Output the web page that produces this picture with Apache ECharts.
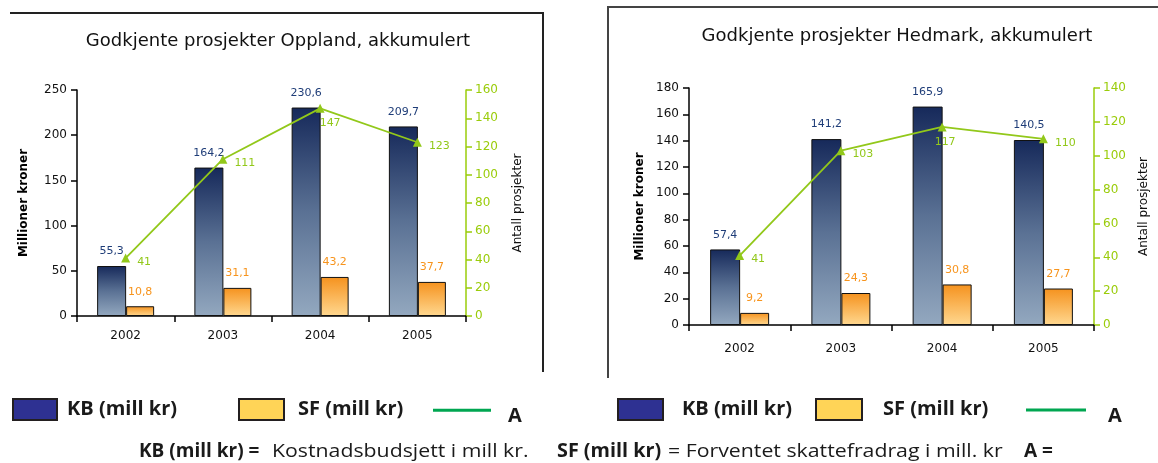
<!DOCTYPE html>
<html>
<head>
<meta charset="utf-8">
<script src="https://cdn.jsdelivr.net/npm/echarts@6/dist/echarts.min.js"></script>
<style>
html,body{margin:0;padding:0;background:#fff;}
#c{width:1158px;height:463px;}
</style>
</head>
<body>
<div id="c"></div>
<script>
const categories = ['2002', '2003', '2004', '2005'];
const opplandKB = [55.3, 164.2, 230.6, 209.7];
const opplandSF = [10.8, 31.1, 43.2, 37.7];
const opplandA = [41, 111, 147, 123];
const hedmarkKB = [57.4, 141.2, 165.9, 140.5];
const hedmarkSF = [9.2, 24.3, 30.8, 27.7];
const hedmarkA = [41, 103, 117, 110];
const titles = ['Godkjente prosjekter Oppland, akkumulert', 'Godkjente prosjekter Hedmark, akkumulert'];
const leftAxisName = 'Millioner kroner';
const rightAxisName = 'Antall prosjekter';
const nameKB = 'KB (mill kr)';
const nameSF = 'SF (mill kr)';
const nameA = 'A';
const footnote = ['KB (mill kr) =', 'Kostnadsbudsjett i mill kr.', 'SF (mill kr)', '= Forventet skattefradrag i mill. kr', 'A ='];

const FONT = 'DejaVu Sans';
const GREEN = '#92c81a';
const AXGREEN = '#9acc0a';
const comma = v => v.toFixed(1).replace('.', ',');

const kbColor = new echarts.graphic.LinearGradient(0, 0, 0, 1, [
  {offset: 0, color: '#16295a'}, {offset: 0.5, color: '#5a7194'}, {offset: 1, color: '#93a8bf'}]);
const sfColor = new echarts.graphic.LinearGradient(0, 0, 0, 1, [
  {offset: 0, color: '#f5921e'}, {offset: 1, color: '#ffd890'}]);

function xAx(gi, margin) {
  return {
    type: 'category', gridIndex: gi, data: categories,
    axisLine: {lineStyle: {color: '#000', width: 1.5}},
    axisTick: {show: true, length: 6, lineStyle: {color: '#000', width: 1.5}},
    axisLabel: {color: '#111', fontFamily: FONT, fontSize: 12, margin: margin},
    splitLine: {show: false}
  };
}
function yLeft(gi, max, interval, gap) {
  return {
    type: 'value', gridIndex: gi, min: 0, max: max, interval: interval,
    name: leftAxisName, nameLocation: 'middle', nameRotate: 90, nameGap: gap,
    nameTextStyle: {color: '#000', fontFamily: FONT, fontSize: 12, fontWeight: 'bold'},
    axisLine: {show: true, lineStyle: {color: '#000', width: 1.5}},
    axisTick: {show: true, length: 6, lineStyle: {color: '#000', width: 1.5}},
    axisLabel: {color: '#111', fontFamily: FONT, fontSize: 12, margin: 10},
    splitLine: {show: false}
  };
}
function yRight(gi, max, gap) {
  return {
    type: 'value', gridIndex: gi, position: 'right', min: 0, max: max, interval: 20,
    name: rightAxisName, nameLocation: 'middle', nameRotate: 90, nameGap: gap,
    nameTextStyle: {color: '#111', fontFamily: FONT, fontSize: 12},
    axisLine: {show: true, lineStyle: {color: AXGREEN, width: 1.5}},
    axisTick: {show: true, length: 6, lineStyle: {color: AXGREEN, width: 1.5}},
    axisLabel: {color: AXGREEN, fontFamily: FONT, fontSize: 12, margin: 9},
    splitLine: {show: false}
  };
}
function barSeries(name, data, gi, color, labelColor, bw) {
  return {
    name: name, type: 'bar', xAxisIndex: gi, yAxisIndex: gi * 2, data: data,
    barWidth: bw, barGap: '0%',
    itemStyle: {color: color, borderColor: '#111', borderWidth: 1},
    label: {show: true, position: 'top', distance: 9, color: labelColor, fontFamily: FONT, fontSize: 11,
      formatter: p => comma(p.value)}
  };
}
function lineSeries(data, gi, peakOffset) {
  const peak = Math.max.apply(null, data);
  return {
    name: nameA, type: 'line', xAxisIndex: gi, yAxisIndex: gi * 2 + 1, z: 5,
    data: data.map(v => v === peak ? {value: v, label: {position: 'bottom', distance: 5, offset: peakOffset}} : v),
    symbol: 'triangle', symbolSize: 9,
    itemStyle: {color: GREEN}, lineStyle: {color: GREEN, width: 1.8},
    label: {show: true, position: 'right', distance: 7, offset: [0, 4], color: GREEN, fontFamily: FONT, fontSize: 11}
  };
}
const legText = {color: '#1a1a1a', fontFamily: 'Open Sans', fontWeight: 'bold', fontSize: 20};
function legendItem(name, left, w, h, style, top, pad, icon) {
  return {
    left: left, top: top, itemWidth: w, itemHeight: h, selectedMode: false, padding: 0,
    data: [{name: name, icon: icon || 'rect', itemStyle: style}],
    textStyle: Object.assign({padding: pad}, legText)
  };
}
const kbLeg = {color: '#2e3192', borderColor: '#231f20', borderWidth: 2};
const sfLeg = {color: '#ffd457', borderColor: '#231f20', borderWidth: 2};
const aLeg = {color: '#00a651', borderWidth: 0};
// line drawn at the top of a taller icon box, so the label sits lower than the line
const aIcon = 'path://M0,0H60V3H0ZM0,14.999H60V15H0Z';

function foot(text, x, bold, sx) {
  return {type: 'text', left: x, top: 442, scaleX: sx, style: {
    text: text, fill: '#1a1a1a', font: (bold ? 'bold ' : '') + '19px "Open Sans"'}};
}

const chart = echarts.init(document.getElementById('c'));
chart.setOption({
  animation: false,
  backgroundColor: '#fff',
  title: [
    {text: titles[0], left: 273, top: 27, textAlign: 'center',
      textStyle: {fontFamily: FONT, fontSize: 18, fontWeight: 'normal', color: '#111'}},
    {text: titles[1], left: 892, top: 22, textAlign: 'center',
      textStyle: {fontFamily: FONT, fontSize: 18, fontWeight: 'normal', color: '#111'}}
  ],
  grid: [
    {left: 77, top: 90, width: 389, height: 226},
    {left: 689, top: 88, width: 405, height: 237}
  ],
  xAxis: [xAx(0, 14), xAx(1, 18)],
  yAxis: [yLeft(0, 250, 50, 47), yRight(0, 160, 46), yLeft(1, 180, 20, 43), yRight(1, 140, 44)],
  legend: [
    legendItem(nameKB, 12, 44, 21, kbLeg, 398, [0, 0, 0, 5]),
    legendItem(nameSF, 238, 45, 21, sfLeg, 398, [0, 0, 0, 9]),
    legendItem(nameA, 433, 58, 15, aLeg, 406, [0, 0, 0, 12], aIcon),
    legendItem(nameKB, 617, 45, 21, kbLeg, 398, [0, 0, 0, 14]),
    legendItem(nameSF, 815, 46, 21, sfLeg, 398, [0, 0, 0, 16]),
    legendItem(nameA, 1026, 60, 15, aLeg, 406, [0, 0, 0, 17], aIcon)
  ],
  series: [
    barSeries(nameKB, opplandKB, 0, kbColor, '#1f3d78', 29),
    barSeries(nameSF, opplandSF, 0, sfColor, '#f7941d', 28),
    lineSeries(opplandA, 0, [10, 0]),
    barSeries(nameKB, hedmarkKB, 1, kbColor, '#1f3d78', 30),
    barSeries(nameSF, hedmarkSF, 1, sfColor, '#f7941d', 29),
    lineSeries(hedmarkA, 1, [3, 0])
  ],
  graphic: [
    {type: 'polyline', shape: {points: [[10, 13], [543, 13], [543, 372]]}, style: {stroke: '#222', lineWidth: 2, fill: null}},
    {type: 'polyline', shape: {points: [[608, 378], [608, 7], [1158, 7]]}, style: {stroke: '#444', lineWidth: 2, fill: null}},
    foot(footnote[0], 139, true, 1),
    foot(footnote[1], 272, false, 1.12),
    foot(footnote[2], 557, true, 1.04),
    foot(footnote[3], 668, false, 1.12),
    foot(footnote[4], 1024, true, 1)
  ]
});
</script>
</body>
</html>
